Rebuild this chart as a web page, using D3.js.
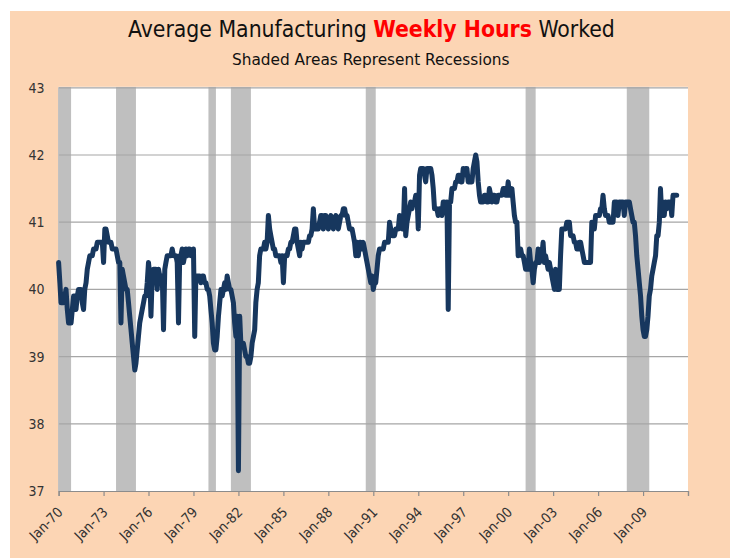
<!DOCTYPE html>
<html><head><meta charset="utf-8">
<script src="https://cdn.jsdelivr.net/npm/d3@7"></script>
<style>html,body{margin:0;padding:0;background:#fff;}svg{display:block;}</style>
</head><body>
<script>
// ---- data (monthly, starting Jan 1970) ----
const startYear = 1970;
const hours1970s = [
 40.4,40.1,39.8,39.8,39.8,39.9,40.0,39.7,39.5,39.5,39.5,39.7,
 39.9,39.9,39.7,39.9,40.0,40.0,40.0,39.8,39.7,40.0,40.1,40.3,
 40.4,40.5,40.5,40.5,40.6,40.6,40.6,40.7,40.7,40.7,40.7,40.7,
 40.4,40.9,40.9,40.8,40.7,40.7,40.7,40.6,40.6,40.6,40.6,40.5,
 40.4,40.4,39.5,40.3,40.2,40.1,40.0,40.0,39.8,39.6,39.4,39.2,
 39.0,38.8,38.9,39.1,39.3,39.5,39.6,39.7,39.8,39.9,39.9,40.1,
 40.4,40.2,39.6,40.2,40.3,40.3,40.3,40.0,40.3,40.2,40.2,40.2,
 39.4,40.3,40.4,40.5,40.5,40.5,40.5,40.6,40.5,40.5,40.5,40.4,
 39.5,40.5,40.5,40.6,40.4,40.5,40.6,40.5,40.6,40.6,40.5,40.5,
 40.6,39.3,40.2,40.2,40.2,40.2,40.1,40.2,40.2,40.1,40.1,40.0];
const hours1980s = [
 40.0,39.9,39.7,39.5,39.2,39.1,39.1,39.3,39.6,39.8,40.0,39.9,
 40.0,40.1,40.0,40.2,40.1,40.0,40.0,39.9,39.8,39.5,39.3,39.6,
 37.3,39.6,39.2,39.2,39.2,39.1,39.0,39.0,38.9,38.9,39.0,39.2,
 39.3,39.4,39.8,40.0,40.1,40.5,40.6,40.6,40.6,40.7,40.6,40.7,
 41.1,40.9,40.8,40.7,40.6,40.6,40.5,40.5,40.5,40.5,40.4,40.5,
 40.1,40.5,40.5,40.5,40.6,40.6,40.7,40.7,40.8,40.9,40.9,40.7,
 40.6,40.5,40.7,40.6,40.7,40.7,40.7,40.7,40.7,40.8,40.8,40.9,
 41.2,40.9,40.9,40.9,40.9,41.0,41.1,41.1,40.9,41.1,41.1,41.0,
 40.9,41.0,41.1,41.0,40.9,41.0,41.1,41.0,40.9,41.0,41.1,41.1,
 41.2,41.2,41.1,41.1,41.0,40.9,40.9,40.9,40.8,40.7,40.5,40.7];
const hours1990s = [
 40.5,40.7,40.7,40.6,40.7,40.6,40.5,40.4,40.3,40.2,40.1,40.2,
 40.0,40.1,40.1,40.3,40.5,40.6,40.6,40.6,40.6,40.7,40.7,40.7,
 40.7,41.0,40.9,40.8,40.8,40.8,40.9,40.9,40.9,41.1,41.0,40.9,
 40.9,41.5,40.8,41.0,41.1,41.2,41.3,41.2,41.3,41.3,41.4,41.4,
 40.9,41.7,41.8,41.8,41.8,41.7,41.6,41.8,41.8,41.8,41.8,41.7,
 41.5,41.2,41.2,41.2,41.1,41.2,41.2,41.1,41.3,41.3,41.2,41.3,
 39.7,41.3,41.3,41.5,41.5,41.5,41.6,41.6,41.7,41.7,41.6,41.6,
 41.8,41.7,41.8,41.8,41.6,41.6,41.6,41.6,41.8,41.9,42.0,41.9,
 41.6,41.4,41.3,41.3,41.3,41.4,41.4,41.3,41.3,41.5,41.4,41.3,
 41.4,41.4,41.3,41.3,41.4,41.4,41.4,41.4,41.5,41.5,41.4,41.4];
const hours2000s = [
 41.6,41.4,41.4,41.5,41.3,41.1,41.0,41.0,40.5,40.6,40.6,40.5,
 40.5,40.4,40.3,40.3,40.3,40.6,40.4,40.3,40.1,40.3,40.4,40.4,
 40.6,40.4,40.5,40.5,40.7,40.4,40.5,40.4,40.3,40.4,40.3,40.2,
 40.1,40.0,40.3,40.0,40.0,40.0,40.5,40.9,40.9,40.9,40.9,41.0,
 41.0,41.0,40.8,40.8,40.8,40.7,40.7,40.6,40.6,40.7,40.7,40.6,
 40.5,40.4,40.4,40.4,40.4,40.4,40.4,41.0,40.9,40.9,41.1,41.1,
 41.1,41.1,41.2,41.2,41.4,41.2,41.1,41.1,41.1,41.0,41.0,41.0,
 41.0,41.3,41.3,41.3,41.1,41.3,41.3,41.3,41.3,41.1,41.3,41.3,
 41.3,41.3,41.2,41.1,41.0,41.0,40.8,40.5,40.3,40.1,39.9,39.6,
 39.4,39.3,39.3,39.4,39.6,39.9,40.0,40.2,40.3,40.4,40.5,40.8];
const hours2010s = [
 40.8,41.0,41.5,41.1,41.3,41.1,41.3,41.2,41.3,41.3,41.3,41.1,
 41.4,41.4,41.4,41.4];

const recessionStarts = ["1969-12","1973-11","1980-01","1981-07","1990-07","2001-03","2007-12"];
const recessionEnds   = ["1970-11","1975-03","1980-07","1982-11","1991-03","2001-11","2009-06"];

const tickYears  = [1970,1973,1976,1979,1982,1985,1988,1991,1994,1997,2000,2003,2006,2009,2012];
const tickLabels = ["Jan-70","Jan-73","Jan-76","Jan-79","Jan-82","Jan-85","Jan-88","Jan-91","Jan-94","Jan-97","Jan-00","Jan-03","Jan-06","Jan-09"];
const yTicks = [37,38,39,40,41,42,43];

const titleParts = [
  {text:"Average Manufacturing ", color:"#111", weight:"normal"},
  {text:"Weekly Hours", color:"#ff0000", weight:"bold"},
  {text:" Worked", color:"#111", weight:"normal"}];
const subtitle = "Shaded Areas Represent Recessions";

// ---- build ----
const allHours = [].concat(hours1970s, hours1980s, hours1990s, hours2000s, hours2010s);
const series = allHours.map((v,i)=>({date:new Date(startYear, i, 1), value:v}));
const parseYM = d3.timeParse("%Y-%m");

const W = 730, H = 558;
const plot = {left:58.6, right:688, top:87.8, bottom:491};
const FONT = "'Liberation Sans Narrow','DejaVu Sans Condensed','Roboto Condensed','Liberation Sans',sans-serif";

const svg = d3.select("body").append("svg").attr("width",W).attr("height",H);
svg.append("rect").attr("x",0).attr("y",0).attr("width",W).attr("height",H).attr("fill","#fff");
svg.append("rect").attr("x",10).attr("y",11).attr("width",W-10).attr("height",H-11).attr("fill","#FCD5B4");

const x = d3.scaleTime().domain([new Date(1970,0,1), new Date(2012,0,1)]).range([plot.left, plot.right]);
const y = d3.scaleLinear().domain([37,43]).range([plot.bottom, plot.top]);

// plot area
svg.append("rect").attr("x",plot.left).attr("y",plot.top-1).attr("width",plot.right-plot.left).attr("height",plot.bottom-plot.top+1).attr("fill","#fff");

svg.append("clipPath").attr("id","pclip").append("rect")
  .attr("x",plot.left).attr("y",plot.top-1).attr("width",plot.right-plot.left).attr("height",plot.bottom-plot.top+1);

// recessions
svg.append("g").attr("clip-path","url(#pclip)").selectAll("rect").data(recessionStarts.map((s,i)=>({s:parseYM(s), e:parseYM(recessionEnds[i])})))
  .join("rect")
  .attr("x",d=>x(d.s)).attr("width",d=>x(d.e)-x(d.s))
  .attr("y",plot.top-1).attr("height",plot.bottom-plot.top+1)
  .attr("fill","#BFBFBF");

// gridlines
svg.append("g").selectAll("line").data(yTicks.filter(t=>t>37)).join("line")
  .attr("x1",plot.left).attr("x2",plot.right).attr("y1",d=>y(d)).attr("y2",d=>y(d))
  .attr("stroke","#A6A6A6").attr("stroke-width",1.2);

// y axis line
svg.append("line").attr("x1",plot.left).attr("x2",plot.left).attr("y1",plot.top).attr("y2",plot.bottom)
  .attr("stroke","#BFBFBF").attr("stroke-width",1);

// x axis
const xAxis = d3.axisBottom(x).tickValues(tickYears.map(yy=>new Date(yy,0,1))).tickSize(5).tickFormat("");
const gx = svg.append("g").attr("transform",`translate(0,${plot.bottom})`).call(xAxis);
gx.select(".domain").attr("stroke","#8C8C8C").attr("stroke-width",1.2);
gx.selectAll(".tick line").attr("stroke","#8C8C8C").attr("stroke-width",1.2);

svg.append("g").selectAll("text").data(tickLabels).join("text")
  .attr("transform",(d,i)=>`translate(${x(new Date(tickYears[i],0,1))+5},${plot.bottom+22}) rotate(-45)`)
  .attr("text-anchor","end")
  .attr("font-family",FONT).attr("font-size",14).attr("fill","#333")
  .text(d=>d);

// y labels
const yAxis = d3.axisLeft(y).tickValues(yTicks).tickSize(0).tickPadding(0).tickFormat(d3.format("d"));
const gy = svg.append("g").attr("transform",`translate(${plot.left-14},0)`).call(yAxis);
gy.select(".domain").remove();
gy.selectAll("text").attr("font-family",FONT).attr("font-size",14).attr("fill","#333");

// line
const line = d3.line().x(d=>x(d.date)).y(d=>y(d.value)).curve(d3.curveLinear);
svg.append("path").datum(series).attr("d",line).attr("fill","none")
  .attr("stroke","#17375E").attr("stroke-width",5).attr("stroke-linejoin","round").attr("stroke-linecap","round");

// titles
function fitText(sel, cx, width){
  const bb = sel.node().getBBox();
  const sx = width / bb.width;
  sel.attr("transform",`translate(${cx},0) scale(${sx},1) translate(${-(bb.x+bb.width/2)},0)`);
}
const title = svg.append("text").attr("x",0).attr("y",37).attr("font-family",FONT).attr("font-size",23);
title.selectAll("tspan").data(titleParts).join("tspan").attr("fill",d=>d.color).attr("font-weight",d=>d.weight).text(d=>d.text);
fitText(title, 371.5, 487);

const sub = svg.append("text").attr("x",0).attr("y",65).attr("font-family",FONT).attr("font-size",16.5).attr("fill","#111").text(subtitle);
fitText(sub, 371, 278);
</script>
</body></html>
